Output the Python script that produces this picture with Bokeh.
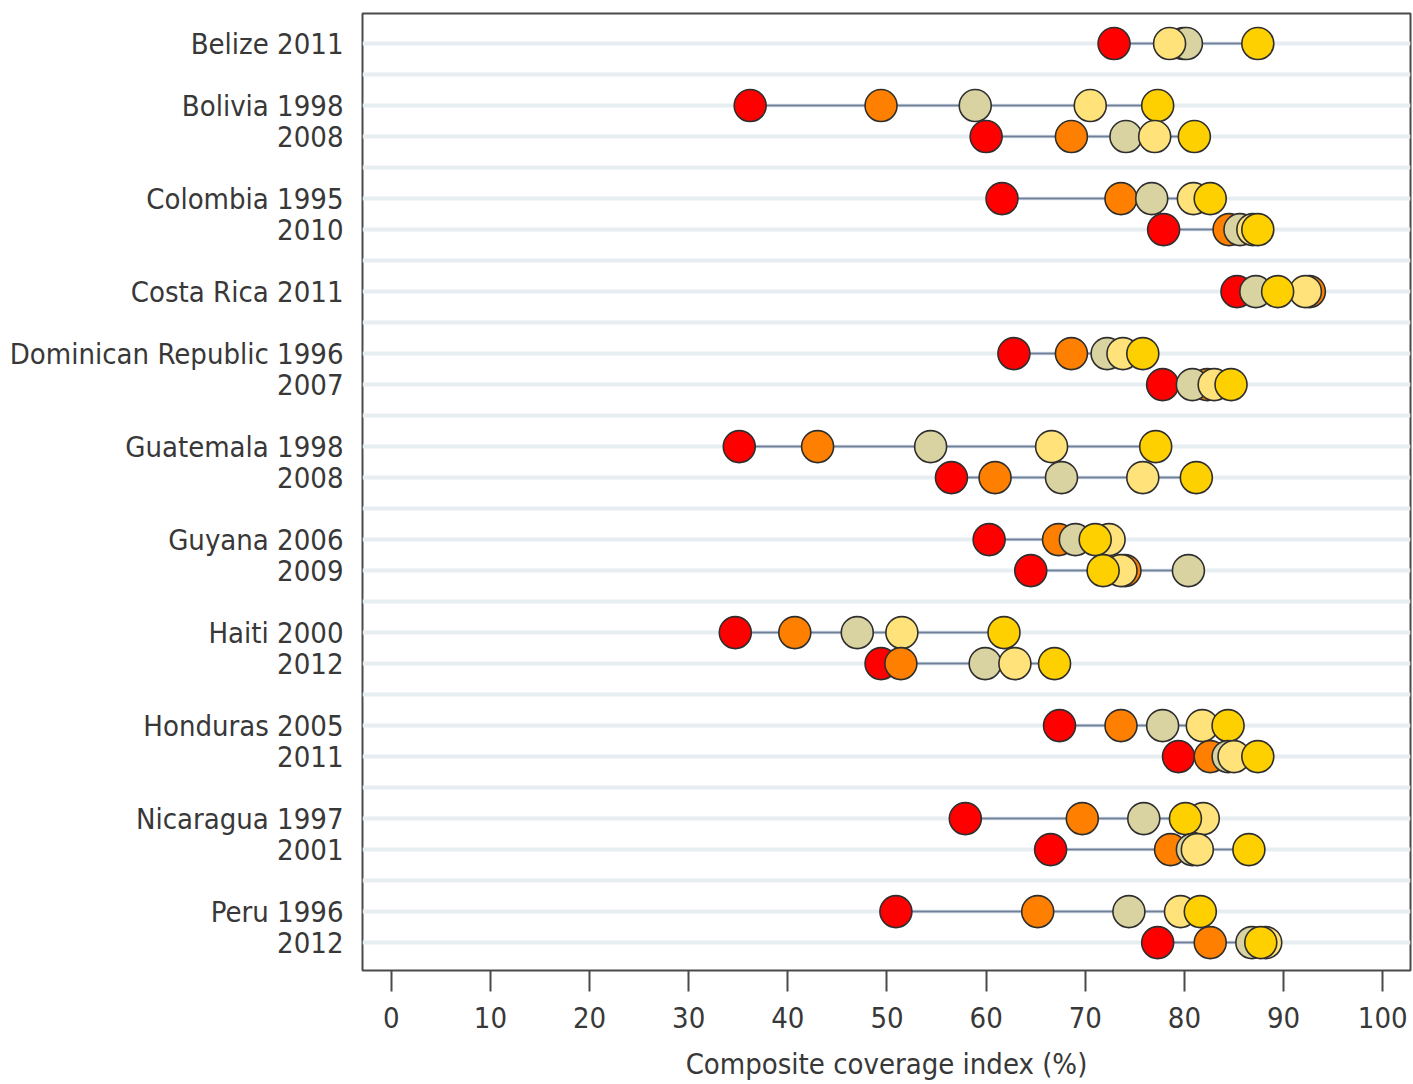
from bokeh.plotting import figure
from bokeh.models import ColumnDataSource, Range1d, FixedTicker
from bokeh.embed import file_html
from bokeh.resources import INLINE

# Surveys grouped by country
countries = ["Belize", "Bolivia", "Colombia", "Costa Rica", "Dominican Republic",
             "Guatemala", "Guyana", "Haiti", "Honduras", "Nicaragua", "Peru"]
survey_years = [[2011], [1998, 2008], [1995, 2010], [2011], [1996, 2007],
                [1998, 2008], [2006, 2009], [2000, 2012], [2005, 2011],
                [1997, 2001], [1996, 2012]]

# Composite coverage index (%) by wealth quintile, one value per survey (in order above)
q1_poorest = [72.9, 36.2, 60.0, 61.6, 77.9, 85.3, 62.8, 77.8, 35.1, 56.5,
              60.3, 64.5, 34.7, 49.4, 67.4, 79.4, 57.9, 66.5, 50.9, 77.3]
q2 = [79.9, 49.4, 68.6, 73.6, 84.5, 92.6, 68.6, 82.3, 43.0, 60.9,
      67.3, 74.0, 40.7, 51.4, 73.6, 82.6, 69.7, 78.6, 65.2, 82.6]
q3 = [80.2, 58.9, 74.1, 76.7, 85.6, 87.2, 72.2, 80.8, 54.4, 67.6,
      69.0, 80.4, 47.0, 59.9, 77.8, 84.4, 75.9, 80.8, 74.4, 86.8]
q4 = [78.5, 70.5, 77.0, 80.9, 86.9, 92.2, 73.8, 83.0, 66.6, 75.8,
      72.4, 73.6, 51.5, 62.9, 81.8, 85.0, 81.9, 81.3, 79.6, 88.2]
q5_richest = [87.4, 77.3, 81.0, 82.6, 87.4, 89.4, 75.8, 84.7, 77.1, 81.2,
              71.0, 71.8, 61.8, 66.9, 84.4, 87.4, 80.1, 86.5, 81.6, 87.7]

quintiles = [q1_poorest, q2, q3, q4, q5_richest]
quintile_colors = ["#ff0000", "#ff8000", "#d8d3a0", "#ffe27a", "#ffd000"]

# Row layout: consecutive rows per country, one blank row between countries
row_pos, row_labels = [], []
slot = 0
for c, yrs in zip(countries, survey_years):
    for k, yr in enumerate(yrs):
        row_pos.append(slot)
        row_labels.append(f"{c} {yr}" if k == 0 else str(yr))
        slot += 1
    slot += 1
last_row = row_pos[-1]

# Range segments (min to max per survey)
seg = ColumnDataSource(dict(
    x0=[min(q[i] for q in quintiles) for i in range(len(row_pos))],
    x1=[max(q[i] for q in quintiles) for i in range(len(row_pos))],
    y=row_pos,
))

# Dots, ordered survey by survey so later rows sit on top
xs, ys, cols = [], [], []
for i, y in enumerate(row_pos):
    for q, col in zip(quintiles, quintile_colors):
        xs.append(q[i])
        ys.append(y)
        cols.append(col)
dots = ColumnDataSource(dict(x=xs, y=ys, color=cols))

FONT = "'DejaVu Sans Condensed', 'Liberation Sans', sans-serif"
TXT = "#383838"
FS = "29px"

p = figure(width=1413, height=1084, output_backend="svg", toolbar_location=None,
           x_range=Range1d(-2.9, 102.8), y_range=Range1d(last_row + 0.9, -0.97),
           min_border_left=362, min_border_right=3, min_border_top=13,
           min_border_bottom=114)

p.background_fill_color = "white"
p.border_fill_color = "white"
p.outline_line_color = "#4a4a4a"
p.outline_line_width = 2

# pale horizontal stripes on every row
p.xgrid.grid_line_color = None
p.ygrid.ticker = FixedTicker(ticks=list(range(last_row + 1)))
p.ygrid.grid_line_color = "#e6eef1"
p.ygrid.grid_line_width = 4

p.segment(x0="x0", y0="y", x1="x1", y1="y", source=seg,
          line_color="#6f7f9a", line_width=2)
p.scatter(x="x", y="y", source=dots, size=32, fill_color="color",
          line_color="#2e2e2e", line_width=1.6)

# x axis
p.xaxis.ticker = FixedTicker(ticks=list(range(0, 101, 10)))
p.xaxis.minor_tick_line_color = None
p.xaxis.major_tick_in = 0
p.xaxis.major_tick_out = 21
p.xaxis.major_tick_line_color = "#4a4a4a"
p.xaxis.major_tick_line_width = 2
p.xaxis.axis_line_color = None
p.xaxis.major_label_standoff = 15
p.xaxis.major_label_text_font = FONT
p.xaxis.major_label_text_font_size = FS
p.xaxis.major_label_text_color = TXT
p.xaxis.axis_label = "Composite coverage index (%)"
p.xaxis.axis_label_text_font = FONT
p.xaxis.axis_label_text_font_size = FS
p.xaxis.axis_label_text_font_style = "normal"
p.xaxis.axis_label_text_color = TXT
p.xaxis.axis_label_standoff = 16

# y axis with survey labels
p.yaxis.ticker = FixedTicker(ticks=row_pos)
p.yaxis.major_label_overrides = {pos: lab for pos, lab in zip(row_pos, row_labels)}
p.yaxis.major_tick_line_color = None
p.yaxis.minor_tick_line_color = None
p.yaxis.axis_line_color = None
p.yaxis.major_label_standoff = 13
p.yaxis.major_label_text_font = FONT
p.yaxis.major_label_text_font_size = FS
p.yaxis.major_label_text_color = TXT

open("out.html", "w").write(file_html(p, INLINE))
